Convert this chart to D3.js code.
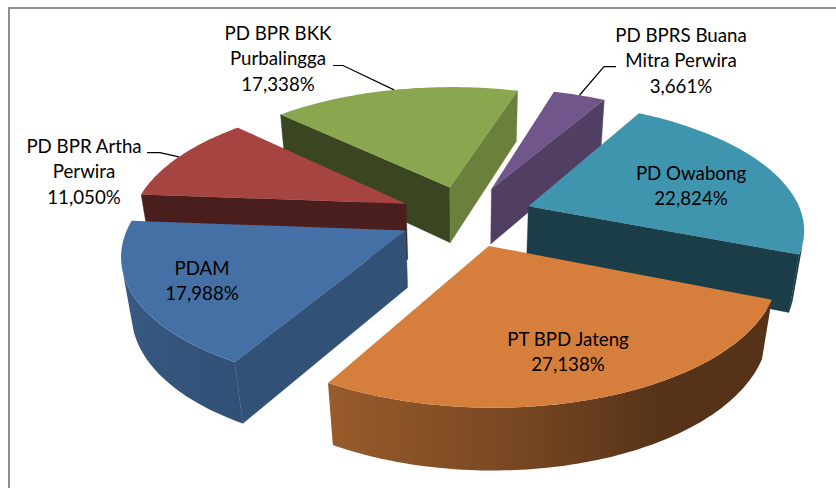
<!DOCTYPE html>
<html><head><meta charset="utf-8">
<script src="https://cdn.jsdelivr.net/npm/d3@7/dist/d3.min.js"></script>
<style>html,body{margin:0;padding:0;background:#fff}svg{display:block}</style>
</head><body><svg id="c" width="836" height="488"></svg>
<script>
// data, clockwise from the first slice
const names = [["PD BPR BKK","Purbalingga"],["PD BPRS Buana","Mitra Perwira"],["PD Owabong"],["PT BPD Jateng"],["PDAM"],["PD BPR Artha","Perwira"]];
const values = [17.338, 3.661, 22.824, 27.138, 17.988, 11.050];
const valueLabels = ["17,338%","3,661%","22,824%","27,138%","17,988%","11,050%"];

// style
const topColors = ["#8aa64e","#70568a","#4095ae","#d67f3c","#4570a5","#a64441"];
const startWallShade = [0.42,0.5,0.5,0.5,0.72,0.44];
const endWallShade = [0.77,0.72,0.41,0.5,0.5,0.5];
const outerShade = d3.scaleLinear().domain([112,150,180,210,275]).range([0.40,0.40,0.58,0.72,0.85]).clamp(true);

// label layout: centre x, first baseline
const labelX = [278,681,691,568,202,84];
const labelY = [40,42,180,346,275,153];
const leaderStart = [[333,65.5],[616,66.7],null,null,null,[147,152.7]];
const leaderElbow = [[343,65.5],[604,66.7],null,null,null,[160,152.7]];

// projection of the disc (unit radius, perspective camera)
const cam = {cx:466, cy:216, A:274, C:125, H:58, p:0.1607, r:0.03, explode:0.244};
const deg = Math.PI/180;
function project(X,Y,Z){
  const w = 1/(1 - cam.p*Y + cam.r*Z);
  return [cam.cx + cam.A*X*w, cam.cy + (cam.C*Y + cam.H*Z)*w];
}

const svg = d3.select("#c");
const defs = svg.append("defs");
// frame
svg.append("rect").attr("x",9).attr("y",8).attr("width",900).attr("height",600)
  .attr("fill","#fff").attr("stroke","#8f8f8f").attr("stroke-width",2);

const pie = d3.pie().sort(null).value(d=>d).startAngle(-45.8*deg).endAngle((360-45.8)*deg);
const arcs = pie(values).map((a,i)=>{
  const mid=(a.startAngle+a.endAngle)/2;
  return {i, a0:a.startAngle, a1:a.endAngle, mid,
    ox:cam.explode*Math.sin(mid), oy:-cam.explode*Math.cos(mid)};
});
const rim = (s,t,Z)=>project(s.ox+Math.sin(t), s.oy-Math.cos(t), Z);
const apex = (s,Z)=>project(s.ox, s.oy, Z);
const path = d3.line();
const shade = (c,f)=>{const q=d3.rgb(c);return d3.rgb(q.r*f,q.g*f,q.b*f).formatHex();};

// paint far slices first
const order = arcs.slice().sort((p,q)=>(-Math.cos(p.mid))-(-Math.cos(q.mid)));
order.forEach(s=>{
  const g = svg.append("g");
  const col = topColors[s.i];
  const steps = d3.range(s.a0, s.a1, 1*deg).concat([s.a1]);
  // radial walls
  const startQuad=[apex(s,0),rim(s,s.a0,0),rim(s,s.a0,1),apex(s,1)];
  const endQuad=[apex(s,1),rim(s,s.a1,1),rim(s,s.a1,0),apex(s,0)];
  if(d3.polygonArea(startQuad)>0){const f=shade(col,startWallShade[s.i]);
    g.append("path").attr("d",path(startQuad)+"Z").attr("fill",f).attr("stroke",f).attr("stroke-width",.4);}
  if(d3.polygonArea(endQuad)>0){const f=shade(col,endWallShade[s.i]);
    g.append("path").attr("d",path(endQuad)+"Z").attr("fill",f).attr("stroke",f).attr("stroke-width",.4);}
  // outer wall: one shape with a horizontal gradient over its visible angles
  const vis = steps.filter(t=>d3.polygonArea([rim(s,t,0),rim(s,t+deg,0),rim(s,t+deg,1),rim(s,t,1)])>0);
  if(vis.length>1){
    const xs = vis.map(t=>rim(s,t,0)[0]);
    const [x0,x1] = d3.extent(xs);
    const grad = defs.append("linearGradient").attr("id","w"+s.i).attr("gradientUnits","userSpaceOnUse")
      .attr("x1",x0).attr("x2",x1).attr("y1",0).attr("y2",0);
    const stops = vis.map((t,k)=>({o:(xs[k]-x0)/(x1-x0), c:shade(col,outerShade((t/deg+360)%360))}))
      .sort((a,b)=>a.o-b.o);
    grad.selectAll("stop").data(stops).join("stop").attr("offset",d=>d.o).attr("stop-color",d=>d.c);
    const pts = vis.map(t=>rim(s,t,0)).concat(vis.slice().reverse().map(t=>rim(s,t,1)));
    g.append("path").attr("d",path(pts)+"Z").attr("fill","url(#w"+s.i+")");
  }
  // top face
  const topPts=[apex(s,0)].concat(steps.map(t=>rim(s,t,0)));
  g.append("path").attr("d",path(topPts)+"Z").attr("fill",col);
});

// leaders
arcs.forEach(s=>{
  if(!leaderStart[s.i]) return;
  svg.append("path").attr("d",path([leaderStart[s.i],leaderElbow[s.i],rim(s,s.mid,0)]))
    .attr("fill","none").attr("stroke","#000").attr("stroke-width",1.2);
});

// labels
const lh=25.4;
arcs.forEach(s=>{
  const lines=names[s.i].concat([valueLabels[s.i]]);
  svg.append("g").selectAll("text").data(lines).join("text")
    .attr("x",labelX[s.i]).attr("y",(d,k)=>labelY[s.i]+k*lh)
    .attr("text-anchor","middle").attr("font-family","Lato, Carlito, sans-serif")
    .attr("font-size",18.7).attr("fill","#000").text(d=>d);
});
</script></body></html>
